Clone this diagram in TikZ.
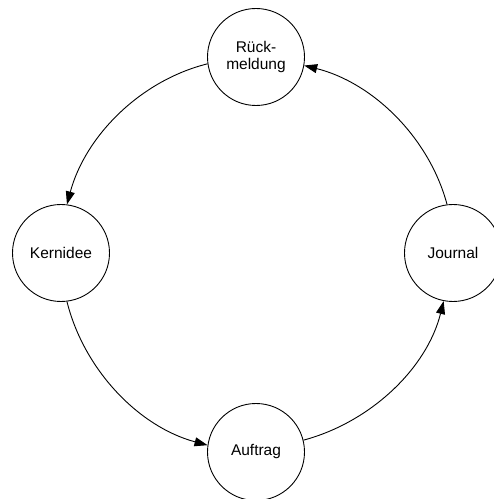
\documentclass[tikz,border=0pt]{standalone}
\usepackage{fontspec}
\setmainfont{Liberation Sans}
\usepackage{tikz}
\usetikzlibrary{arrows.meta}
\tikzset{
  stage/.style={circle,draw,line width=0.9pt,minimum size=97pt,inner sep=0pt,
    align=center,font=\fontsize{15.5}{17}\selectfont},
  flow/.style={line width=0.9pt,-{Triangle[length=13pt,width=9pt]},looseness=0.9}
}

\begin{document}
\begin{tikzpicture}[x=1pt,y=1pt]
  \useasboundingbox (0,0) rectangle (494,499);
  % the four stages, clockwise from the top
  \node[stage] (rueck)   at (256,442) {Rück-\\meldung};
  \node[stage] (journal) at (453,246) {Journal};
  \node[stage] (auftrag) at (256,47)  {Auftrag};
  \node[stage] (kern)    at (61,246)  {Kernidee};
  % cycle runs anticlockwise
  \draw[flow] (rueck.188)    to[out=194,in=75]   (kern.83);
  \draw[flow] (kern.-83)     to[out=-76,in=165]  (auftrag.172);
  \draw[flow] (auftrag.14)   to[out=15,in=-104]  (journal.-101);
  \draw[flow] (journal.97)   to[out=105,in=-14]  (rueck.-10);
\end{tikzpicture}
\end{document}
